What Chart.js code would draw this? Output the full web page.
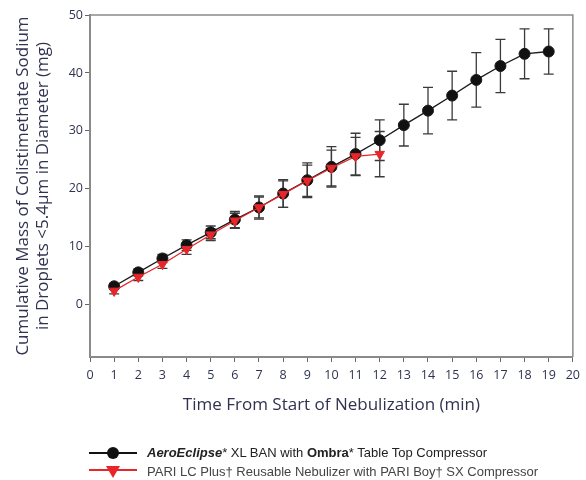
<!DOCTYPE html>
<html>
<head>
<meta charset="utf-8">
<script src="https://cdn.jsdelivr.net/npm/chart.js@4.4.0/dist/chart.umd.min.js"></script>
<style>
  html, body { margin: 0; padding: 0; background: #fff; }
  #wrap { position: relative; width: 586px; height: 480px; }
  #legend { position: absolute; left: 89px; top: 443px; font-family: "Liberation Sans", Arial, sans-serif; font-size: 13px; color: #222; }
  .item { display: flex; align-items: center; height: 19px; white-space: nowrap; }
  .item svg { margin-right: 8px; }
</style>
</head>
<body>
<div id="wrap">
  <canvas id="chart" width="586" height="480"></canvas>
  <div id="legend">
    <div class="item">
      <svg width="50" height="14"><line x1="0" y1="7" x2="48" y2="7" stroke="#111" stroke-width="2"/><circle cx="24" cy="7" r="6" fill="#111"/></svg>
      <span><b><i>AeroEclipse</i></b>* XL BAN with <b>Ombra</b>* Table Top Compressor</span>
    </div>
    <div class="item" style="color:#444">
      <svg width="50" height="14"><line x1="0" y1="5" x2="48" y2="5" stroke="#e8262a" stroke-width="2"/><polygon points="17,1 31,1 24,13" fill="#e8262a"/></svg>
      <span>PARI LC Plus† Reusable Nebulizer with PARI Boy† SX Compressor</span>
    </div>
  </div>
</div>
<script>
// valori (mg cumulativi, barre = deviazione)
const minutes = [1, 2, 3, 4, 5, 6, 7, 8, 9, 10, 11, 12, 13, 14, 15, 16, 17, 18, 19];
const aeroMass = [3.2, 5.6, 8.0, 10.3, 12.5, 14.7, 16.8, 19.2, 21.5, 23.8, 26.0, 28.4, 31.0, 33.5, 36.1, 38.8, 41.2, 43.3, 43.7];
const aeroErr = [0.5, 0.6, 0.7, 0.9, 1.1, 1.4, 2.0, 2.4, 3.0, 3.5, 3.6, 3.5, 3.6, 4.0, 4.2, 4.7, 4.6, 4.3, 3.9];
const pariMass = [2.4, 4.8, 7.0, 9.6, 12.1, 14.5, 16.8, 19.1, 21.4, 23.6, 25.6, 26.0];
const pariErr = [0.5, 0.6, 0.7, 0.9, 1.0, 1.3, 1.8, 2.3, 2.7, 3.1, 3.3, 3.9];
const yTitle = ['Cumulative Mass of Colistimethate Sodium', 'in Droplets <5.4\u03bcm in Diameter (mg)'];
const xTitle = 'Time From Start of Nebulization (min)';

const textColor = '#2f3350';
const axisColor = '#8a8a8a';

// barre d'errore disegnate con le scale del grafico
const errorBars = {
  id: 'errorBars',
  beforeDatasetsDraw(chart) {
    const { ctx, scales: { x, y } } = chart;
    ctx.save();
    ctx.strokeStyle = '#3a3a3a';
    ctx.lineWidth = 1.3;
    chart.data.datasets.forEach(ds => {
      ds.data.forEach((p, i) => {
        const e = ds.errors[i];
        const px = x.getPixelForValue(p.x);
        const top = y.getPixelForValue(p.y + e);
        const bot = y.getPixelForValue(p.y - e);
        ctx.beginPath();
        ctx.moveTo(px, top); ctx.lineTo(px, bot);
        ctx.moveTo(px - 5, top); ctx.lineTo(px + 5, top);
        ctx.moveTo(px - 5, bot); ctx.lineTo(px + 5, bot);
        ctx.stroke();
      });
    });
    ctx.restore();
  }
};

// cornice superiore e destra
const frame = {
  id: 'frame',
  beforeDatasetsDraw(chart) {
    const { ctx, chartArea: a } = chart;
    ctx.save();
    ctx.strokeStyle = axisColor;
    ctx.lineWidth = 1.5;
    ctx.beginPath();
    ctx.moveTo(a.left, a.top); ctx.lineTo(a.right, a.top); ctx.lineTo(a.right, a.bottom);
    ctx.stroke();
    ctx.restore();
  }
};

const ctx = document.getElementById('chart').getContext('2d');
new Chart(ctx, {
  type: 'line',
  data: {
    datasets: [
      {
        label: 'PARI LC Plus',
        data: pariMass.map((v, i) => ({ x: minutes[i], y: v })),
        errors: pariErr,
        borderColor: '#e8262a',
        backgroundColor: '#e8262a',
        borderWidth: 1.3,
        pointStyle: 'triangle',
        rotation: 180,
        pointRadius: 5.5,
        pointBorderWidth: 1,
        order: 0
      },
      {
        label: 'AeroEclipse',
        data: aeroMass.map((v, i) => ({ x: minutes[i], y: v })),
        errors: aeroErr,
        borderColor: '#1a1a1a',
        backgroundColor: '#111',
        borderWidth: 1.3,
        pointStyle: 'circle',
        pointRadius: 5.5,
        pointBorderWidth: 1,
        order: 1
      }
    ]
  },
  options: {
    responsive: false,
    animation: false,
    layout: { padding: { left: 0, top: 15, right: 9, bottom: 63 } },
    plugins: { legend: { display: false }, tooltip: { enabled: false } },
    scales: {
      x: {
        type: 'linear',
        min: 0,
        max: 20,
        ticks: { stepSize: 1, color: textColor, font: { family: 'Open Sans', size: 12.5 }, padding: 6, maxRotation: 0 },
        grid: { drawOnChartArea: false, tickLength: 5, tickColor: '#666' },
        border: { color: axisColor, width: 2 },
        title: { display: true, text: xTitle, color: textColor, font: { family: 'Open Sans', size: 17 }, padding: { top: 0, bottom: 2 } },
        afterFit: s => { s.height = 60; }
      },
      y: {
        min: -9,
        max: 50,
        ticks: { stepSize: 10, color: textColor, font: { family: 'Open Sans', size: 12.5 }, padding: 2 },
        afterBuildTicks: s => { s.ticks = s.ticks.filter(t => t.value % 10 === 0); },
        grid: { drawOnChartArea: false, tickLength: 5, tickColor: '#666' },
        border: { color: axisColor, width: 2 },
        title: { display: true, text: yTitle, color: textColor, font: { family: 'Open Sans', size: 17 }, padding: { top: 13, bottom: 0 } },
        afterFit: s => { s.width = 90; }
      }
    }
  },
  plugins: [errorBars, frame]
});
</script>
</body>
</html>
